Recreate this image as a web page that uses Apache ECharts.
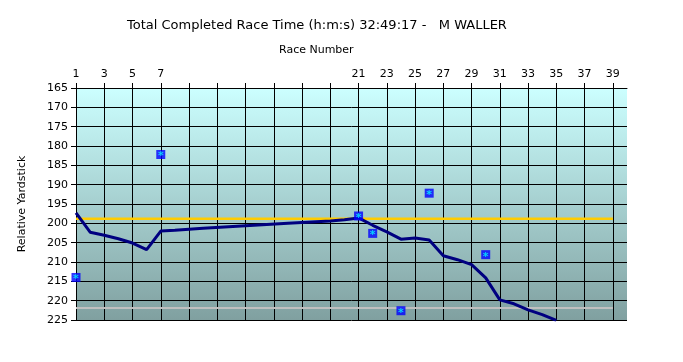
<!DOCTYPE html>
<html>
<head>
<meta charset="utf-8">
<script src="https://cdn.jsdelivr.net/npm/echarts@6/dist/echarts.min.js"></script>
<style>
html,body{margin:0;padding:0;background:#fff;}
#chart{width:683px;height:362px;}
</style>
</head>
<body>
<div id="chart"></div>
<script>
// Categories: race numbers 1..40
var races = ['1','2','3','4','5','6','7','8','9','10','11','12','13','14','15','16','17','18','19','20',
             '21','22','23','24','25','26','27','28','29','30','31','32','33','34','35','36','37','38','39','40'];
// Tick labels shown on the top axis
var xTickLabels = ['1','3','5','7','21','23','25','27','29','31','33','35','37','39'];
// Trend line (Relative Yardstick) read at races where visible
var trendRaces  = ['1','2','3','4','5','6','7','8','10','13','16','19','20','21','22','23','24','25','26','27','28','29','30','31','32','33','34','35'];
var trendValues = [197.3,202.3,203.1,204.0,205.1,206.8,202.0,201.8,201.3,200.6,200.0,199.4,199.1,198.6,200.5,202.2,204.1,203.8,204.3,208.4,209.4,210.7,214.1,219.8,220.8,222.4,223.6,225.1];
// Individual race results
var pointRaces  = ['1','7','21','22','24','26','30'];
var pointValues = [214.0,182.2,198.1,202.6,222.6,192.2,208.1];
// Reference lines
var refRaces = ['1','39'];
var yellowValue = 198.8;
var greyValue = 221.9;

var FONT = 'DejaVu Sans';
var chart = echarts.init(document.getElementById('chart'));

function pairs(cats, vals) {
  return cats.map(function (c, i) { return [c, vals[i]]; });
}

var option = {
  backgroundColor: '#ffffff',
  animation: false,
  title: [
    { text: 'Total Completed Race Time (h:m:s) 32:49:17 -   M WALLER', left: 122, top: 14,
      textStyle: { fontFamily: FONT, fontSize: 13, fontWeight: 'normal', color: '#000' } },
    { text: 'Race Number', left: 274, top: 40,
      textStyle: { fontFamily: FONT, fontSize: 11, fontWeight: 'normal', color: '#000' } }
  ],
  grid: {
    left: 76, right: 56, top: 88, bottom: 42, show: true, borderWidth: 0,
    backgroundColor: new echarts.graphic.LinearGradient(0, 0, 0, 1, [
      { offset: 0, color: '#CCFFFF' },
      { offset: 1, color: '#80A0A0' }
    ])
  },
  xAxis: {
    type: 'category',
    data: races,
    position: 'top',
    boundaryGap: false,
    axisLine: { show: true, lineStyle: { color: '#000', width: 1 } },
    axisTick: { show: true, length: 5, lineStyle: { color: '#000' },
      interval: function (i) { return i % 2 === 0; } },
    axisLabel: {
      interval: 0, fontFamily: FONT, fontSize: 11, color: '#000', margin: 8,
      formatter: function (v) { return xTickLabels.indexOf(v) >= 0 ? v : ''; }
    },
    splitLine: { show: true, lineStyle: { color: '#000', width: 1 },
      interval: function (i) { return i % 2 === 0; } }
  },
  yAxis: {
    type: 'value',
    inverse: true,
    min: 165, max: 225, interval: 5,
    name: 'Relative Yardstick',
    nameLocation: 'middle',
    nameGap: 48,
    nameTextStyle: { fontFamily: FONT, fontSize: 11, color: '#000' },
    axisLine: { show: true, lineStyle: { color: '#000', width: 1 } },
    axisTick: { show: true, length: 5, lineStyle: { color: '#000' } },
    axisLabel: { fontFamily: FONT, fontSize: 11, color: '#000', margin: 8 },
    splitLine: { show: true, lineStyle: { color: '#000', width: 1 } }
  },
  series: [
    {
      type: 'line', name: 'grey', data: pairs(refRaces, [greyValue, greyValue]),
      symbol: 'none', connectNulls: true, lineStyle: { color: '#C0C0C0', width: 2 }, z: 2
    },
    {
      type: 'line', name: 'yellow', data: pairs(refRaces, [yellowValue, yellowValue]),
      symbol: 'none', connectNulls: true, lineStyle: { color: '#FFCC00', width: 2.5 }, z: 3
    },
    {
      type: 'line', name: 'trend', data: pairs(trendRaces, trendValues),
      symbol: 'none', connectNulls: true, lineStyle: { color: '#000080', width: 3 }, z: 4
    },
    {
      type: 'scatter', name: 'races', data: pairs(pointRaces, pointValues),
      symbol: 'rect', symbolSize: 9, clip: false,
      itemStyle: { color: '#0000FF' },
      label: { show: true, position: 'inside', formatter: '*', color: '#00FFFF',
        fontFamily: FONT, fontSize: 11, fontWeight: 'bold', offset: [0, 2] },
      z: 5
    }
  ]
};
chart.setOption(option);
</script>
</body>
</html>
